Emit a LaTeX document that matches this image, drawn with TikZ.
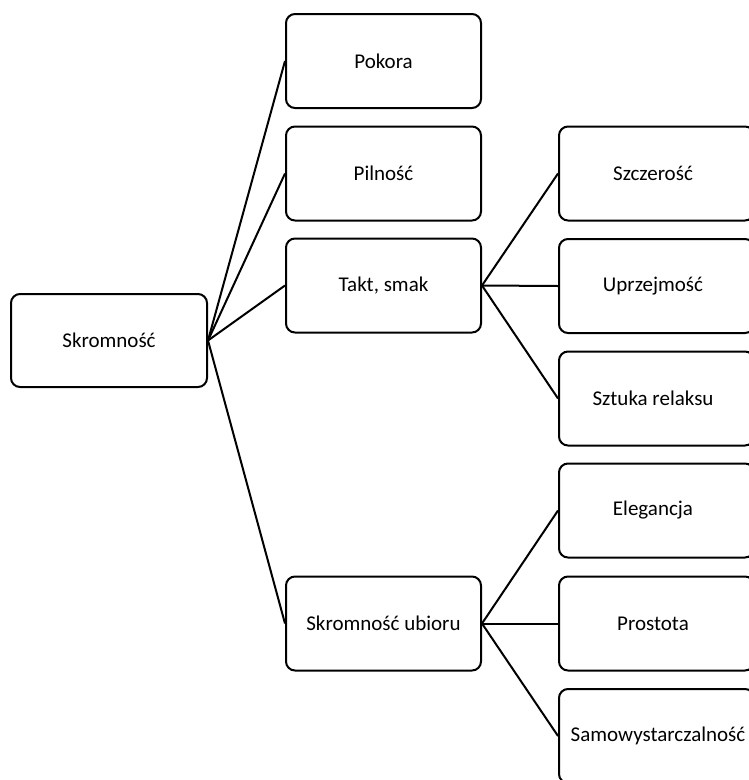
\documentclass[tikz,border=0pt]{standalone}
\usepackage{fontspec}
\setmainfont{Carlito}
\begin{document}
\begin{tikzpicture}[x=1pt,y=-1pt,
  box/.style={draw=black, line width=2pt, rounded corners=9pt, fill=white,
    inner sep=0pt, font=\fontsize{21}{25}\selectfont},
  midbox/.style={box, minimum width=195pt, minimum height=94pt},
  rbox/.style={box, minimum width=195pt, minimum height=94pt},
  conn/.style={draw=black, line width=2pt}]
\useasboundingbox (0,0) rectangle (749,780);
\clip (0,0) rectangle (749,780);
\node[box, minimum width=196pt, minimum height=93pt] (sk) at (109,340.5) {Skromność};
\node[midbox] (pok) at (383.5,61) {Pokora};
\node[midbox] (pil) at (383.5,173.5) {Pilność};
\node[midbox] (tak) at (383.5,285.5) {Takt, smak};
\node[midbox] (ubi) at (383.5,623.5) {Skromność ubioru};
\node[rbox] (szc) at (656.5,173.5) {};
\node at (653,173.5) [font=\fontsize{21}{25}\selectfont] (szct) {Szczerość};
\node[rbox] (upr) at (656.5,286) {};
\node at (653,286) [font=\fontsize{21}{25}\selectfont] (uprt) {Uprzejmość};
\node[rbox] (szt) at (656.5,398.5) {};
\node at (653,398.5) [font=\fontsize{21}{25}\selectfont] (sztt) {Sztuka relaksu};
\node[rbox] (ele) at (656.5,510.5) {};
\node at (653,510.5) [font=\fontsize{21}{25}\selectfont] (elet) {Elegancja};
\node[rbox] (pro) at (656.5,623.5) {};
\node at (653,623.5) [font=\fontsize{21}{25}\selectfont] (prot) {Prostota};
\node[rbox] (sam) at (656.5,736) {};
\node at (658,736) [font=\fontsize{21}{25}\selectfont] (samt) {Samowystarczalność};
\foreach \t in {pok,pil,tak,ubi}
  \draw[conn] (sk.east) -- (\t.west);
\foreach \t in {szc,upr,szt}
  \draw[conn] (tak.east) -- (\t.west);
\foreach \t in {ele,pro,sam}
  \draw[conn] (ubi.east) -- (\t.west);
\end{tikzpicture}
\end{document}
